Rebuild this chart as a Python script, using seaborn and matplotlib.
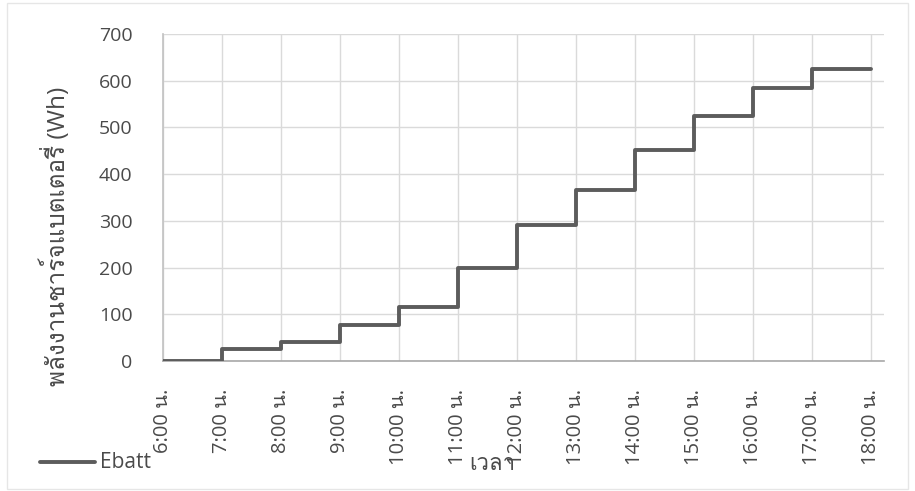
import matplotlib
matplotlib.use("Agg")
import matplotlib.pyplot as plt
import seaborn as sns
import pandas as pd
from matplotlib import font_manager
from matplotlib.patches import Rectangle

# ---- data ----
hours = [6, 7, 8, 9, 10, 11, 12, 13, 14, 15, 16, 17, 18]
tick_labels = ["6:00 น.", "7:00 น.", "8:00 น.", "9:00 น.", "10:00 น.", "11:00 น.",
               "12:00 น.", "13:00 น.", "14:00 น.", "15:00 น.", "16:00 น.",
               "17:00 น.", "18:00 น."]
ebatt = [0, 25, 41, 76, 116, 200, 291, 367, 452, 525, 584, 625, 625]
y_ticks = [0, 100, 200, 300, 400, 500, 600, 700]
series_name = "Ebatt"
x_title = "เวลา"
y_title = "พลังงานชาร์จแบตเตอรี่ (Wh)"

# ---- find a Thai-capable font ----
thai_family = None
try:
    from fontTools.ttLib import TTFont
    for f in font_manager.fontManager.ttflist:
        try:
            tt = TTFont(f.fname, fontNumber=0, lazy=True)
            cmap = tt.getBestCmap()
            if cmap and 0x0E01 in cmap:
                thai_family = f.name
                break
        except Exception:
            pass
except Exception:
    pass

sns.set_theme(style="white")
fams = ["Open Sans"]
if thai_family:
    fams.append(thai_family)
fams.append("DejaVu Sans")
plt.rcParams["font.family"] = fams

df = pd.DataFrame({"hour": hours, "Ebatt": ebatt})

fig = plt.figure(figsize=(9.15, 4.91), dpi=100)
ax = fig.add_axes([163 / 915, 1 - 361 / 491, (884 - 163) / 915, (361 - 34) / 491])

sns.lineplot(data=df, x="hour", y="Ebatt", ax=ax, drawstyle="steps-post",
             color="#5c5c5c", linewidth=2.8, legend=False, zorder=3)

text_color = "#4a4a4a"
ax.set_xlim(6, 18.22)
ax.set_ylim(0, 700)
ax.set_xticks(hours)
ax.set_xticklabels(tick_labels, rotation=90, fontsize=14.5, color=text_color)
ax.set_yticks(y_ticks)
ax.set_yticklabels([str(v) for v in y_ticks], fontsize=14, color=text_color)
ax.tick_params(axis="y", length=0, pad=22)
ax.tick_params(axis="x", length=0, pad=20)
ax.grid(True, color="#dadada", linewidth=1.0)
for s in ["top", "right"]:
    ax.spines[s].set_visible(False)
ax.spines["left"].set_color("#c4c4c4")
ax.spines["bottom"].set_color("#a8a8a8")
ax.spines["bottom"].set_linewidth(1.2)

ax.set_xlabel("")
ax.set_ylabel(y_title, fontsize=17.5, color=text_color)
ax.yaxis.set_label_coords(-0.128, 0.38)
fig.text(492 / 915, 1 - 465 / 491, x_title, fontsize=16, color=text_color,
         ha="center", va="center")

# legend at bottom left
fig.lines.append(plt.Line2D([40 / 915, 95 / 915], [1 - 462 / 491, 1 - 462 / 491],
                            transform=fig.transFigure, color="#5c5c5c", linewidth=2.8))
fig.text(100 / 915, 1 - 462 / 491, series_name, fontsize=15, color=text_color,
         ha="left", va="center")

# faint chart-area border
fig.patches.append(Rectangle((7 / 915, 0.005), 1 - 14 / 915, 1 - 3 / 491 - 0.005,
                             transform=fig.transFigure, fill=False,
                             edgecolor="#e6e6e6", linewidth=1.0))

fig.savefig("out.png", dpi=100, facecolor="white")
